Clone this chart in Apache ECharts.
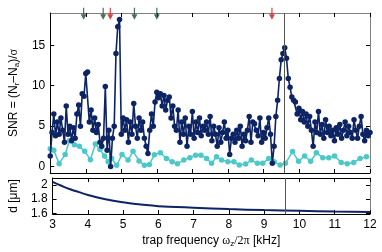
<!DOCTYPE html>
<html><head><meta charset="utf-8">
<script src="https://cdn.jsdelivr.net/npm/echarts@6/dist/echarts.min.js"></script>
<style>html,body{margin:0;padding:0;background:#fff}#c{width:382px;height:252px}</style>
</head><body><div id="c"></div>
<script>
// Signal SNR (dark blue), sampled every 0.05 kHz
var freqSignal = [
3.00,3.05,3.10,3.15,3.20,3.25,3.30,3.35,3.40,3.45,3.50,3.55,3.60,3.65,3.70,3.75,3.80,3.85,3.90,3.95,
4.00,4.05,4.10,4.15,4.20,4.25,4.30,4.35,4.40,4.45,4.50,4.55,4.60,4.65,4.70,4.75,4.80,4.85,4.90,4.95,
5.00,5.05,5.10,5.15,5.20,5.25,5.30,5.35,5.40,5.45,5.50,5.55,5.60,5.65,5.70,5.75,5.80,5.85,5.90,5.95,
6.00,6.05,6.10,6.15,6.20,6.25,6.30,6.35,6.40,6.45,6.50,6.55,6.60,6.65,6.70,6.75,6.80,6.85,6.90,6.95,
7.00,7.05,7.10,7.15,7.20,7.25,7.30,7.35,7.40,7.45,7.50,7.55,7.60,7.65,7.70,7.75,7.80,7.85,7.90,7.95,
8.00,8.05,8.10,8.15,8.20,8.25,8.30,8.35,8.40,8.45,8.50,8.55,8.60,8.65,8.70,8.75,8.80,8.85,8.90,8.95,
9.00,9.05,9.10,9.15,9.20,9.25,9.30,9.35,9.40,9.45,9.50,9.55,9.60,9.65,9.70,9.75,9.80,9.85,9.90,9.95,
10.00,10.05,10.10,10.15,10.20,10.25,10.30,10.35,10.40,10.45,10.50,10.55,10.60,10.65,10.70,10.75,10.80,10.85,10.90,10.95,
11.00,11.05,11.10,11.15,11.20,11.25,11.30,11.35,11.40,11.45,11.50,11.55,11.60,11.65,11.70,11.75,11.80,11.85,11.90,11.95,
12.00];
var snrSignal = [
1.3,4.2,6.5,3.8,5.5,4.0,6.0,4.5,3.0,7.5,4.0,5.0,3.2,4.8,3.5,6.5,7.6,5.0,9.0,8.7,
11.5,11.7,5.5,7.0,4.5,6.0,4.2,5.2,3.0,2.5,3.5,9.9,2.0,4.5,0.0,3.5,5.0,14.0,17.3,18.2,
4.0,6.0,4.5,5.8,3.0,5.5,4.0,7.8,5.0,3.5,6.0,4.5,5.5,3.5,2.5,1.6,4.5,6.5,5.0,8.0,
9.2,8.5,9.0,7.5,8.8,7.0,8.2,8.6,6.0,7.5,5.0,4.5,7.0,3.0,5.5,4.0,6.0,2.5,5.0,4.0,
6.8,3.5,5.5,4.2,6.0,3.8,5.0,4.5,5.5,4.0,6.2,3.2,5.0,4.0,2.5,4.8,3.0,4.2,5.5,3.5,
4.5,1.5,3.5,4.0,3.0,4.5,3.5,5.0,2.5,4.0,3.2,4.5,6.2,3.0,5.5,5.3,4.5,3.8,6.0,3.0,
4.2,3.5,4.8,6.0,4.0,0.4,2.5,6.2,8.2,10.9,13.2,14.0,14.7,13.4,10.9,9.8,8.6,8.2,8.0,6.5,
7.2,5.8,6.8,5.5,6.5,5.0,6.2,4.5,2.5,5.5,4.2,6.8,4.0,5.2,3.5,5.8,4.2,5.0,3.8,4.5,
3.2,4.8,4.0,5.2,3.5,4.5,5.5,3.8,5.0,4.2,3.5,5.8,4.5,3.5,5.0,6.2,4.0,3.2,4.5,3.8,
4.2];
// Reference SNR (cyan)
var freqRef = [3.00,3.10,3.25,3.42,3.54,3.68,3.82,3.97,4.13,4.27,4.40,4.53,4.63,4.73,4.87,5.02,5.19,5.33,5.50,5.65,
5.79,5.93,6.10,6.27,6.43,6.58,6.76,6.93,7.09,7.24,7.40,7.54,7.68,7.82,8.00,8.17,8.32,8.50,8.66,8.83,
8.98,9.15,9.30,9.47,9.62,9.82,9.99,10.16,10.33,10.49,10.67,10.84,11.00,11.19,11.36,11.54,11.72,11.90];
var snrRef = [2.2,2.0,0.35,1.5,3.2,2.7,2.5,1.9,0.85,2.8,2.1,1.3,0.6,1.0,0.15,1.5,0.8,1.9,0.7,0.15,
0.25,1.45,1.7,1.0,0.6,0.35,0.8,1.1,1.4,1.4,1.0,0.4,1.2,0.8,0.6,0.6,0.2,0.3,0.8,0.4,
0.4,1.0,0.6,0.2,0.4,1.85,0.65,1.3,0.65,1.7,1.1,1.1,1.3,0.5,0.35,0.5,1.0,1.2];
// Ion distance d [um]
var freqD = [3.0,3.25,3.5,3.75,4.0,4.5,5.0,5.5,6.0,6.5,7.0,8.0,9.0,10.0,11.0,12.0];
var distD = [2.045,1.99,1.94,1.90,1.86,1.80,1.756,1.725,1.70,1.69,1.68,1.66,1.645,1.635,1.627,1.62];
// Arrows
var arrowFreq = [3.94,4.49,4.69,5.37,6.0,9.24];
var arrowKind = ['g','g','r','g','g','r'];
var omegaM = 9.6;
var xTicks = [3,4,5,6,7,8,9,10,11,12];
var yTicksTop = [0,5,10,15];
var yTicksBot = [1.6,1.8,2.0];

var NAVY = '#0c2364', CYAN = '#4cc8c8', GREEN = '#1a4b34', RED = '#d01414';
var FONT = 'Liberation Sans, Arial, sans-serif';
function zip(a,b){return a.map(function(v,i){return [v,b[i]];});}

var chart = echarts.init(document.getElementById('c'), null, {renderer:'canvas'});
function xAx(grid, pos, lineColor, labels){
  return {gridIndex:grid, type:'value', position:pos, min:3, max:12, interval:1,
    axisLine:{show:true, onZero:false, lineStyle:{color:lineColor, width:1}},
    axisTick:{show:true, inside:true, length:4, lineStyle:{color:'#000'}},
    axisLabel:{show:labels, color:'#000', fontSize:12, fontFamily:FONT, margin:5},
    splitLine:{show:false}};
}
function yAx(grid, pos, lineColor, min, max, ticks, labels){
  return {gridIndex:grid, type:'value', position:pos, min:min, max:max,
    axisLine:{show:true, onZero:false, lineStyle:{color:lineColor, width:1}},
    axisTick:{show:true, inside:true, length:4, customValues:ticks, lineStyle:{color:'#000'}},
    axisLabel:{show:labels, customValues:ticks, color:'#000', fontSize:12, fontFamily:FONT, margin:5,
      formatter:function(v){return String(Math.round(v*10)/10);}},
    splitLine:{show:false}};
}
var xs = [xAx(0,'bottom','#000',false), xAx(0,'top','#808080',false), xAx(1,'bottom','#000',true), xAx(1,'top','#000',false)];
xs[2].name = '{t|trap frequency }{g|ω}{s|z}{g|/2π}{t| [kHz]}';
xs[2].nameLocation = 'middle';
xs[2].nameGap = 20;
xs[2].nameTextStyle = {rich:{
  t:{fontSize:12, fontFamily:FONT, color:'#000'},
  g:{fontSize:12, fontFamily:'Liberation Serif, serif', color:'#000'},
  s:{fontSize:8, fontFamily:FONT, color:'#000', verticalAlign:'bottom', padding:[6,0,0,0]}}};
var ys = [yAx(0,'left','#000',-0.8,19,yTicksTop,true), yAx(0,'right','#808080',-0.8,19,yTicksTop,false),
          yAx(1,'left','#000',1.59,2.1,yTicksBot,true), yAx(1,'right','#808080',1.59,2.1,yTicksBot,false)];
ys[0].name = '{t|SNR = (N}{s|r}{t|–N}{s|a}{t|)/}{g|σ}';
ys[0].nameLocation = 'middle'; ys[0].nameGap = 24; ys[0].nameRotate = 90;
ys[0].nameTextStyle = {rich:{
  t:{fontSize:12, fontFamily:FONT, color:'#000'},
  g:{fontSize:12, fontFamily:'Liberation Serif, serif', color:'#000'},
  s:{fontSize:8, fontFamily:FONT, color:'#000', padding:[6,0,0,0]}}};
ys[2].name = 'd [μm]';
ys[2].nameLocation = 'middle'; ys[2].nameGap = 24; ys[2].nameRotate = 90;
ys[2].nameTextStyle = {fontSize:12, fontFamily:FONT, color:'#000'};

var vline = function(){return {silent:true, symbol:'none', label:{show:false},
  lineStyle:{color:'#555', width:1, type:'solid'}, data:[{xAxis:omegaM}]};};

chart.setOption({
  animation:false,
  grid:[{left:45, top:13, width:325, height:160},
        {left:45, top:178, width:325, height:36}],
  xAxis:xs, yAxis:ys,
  series:[
    {type:'line', xAxisIndex:0, yAxisIndex:0, data:zip(freqRef,snrRef), symbol:'circle', symbolSize:5.5,
     itemStyle:{color:CYAN}, lineStyle:{color:CYAN, width:1.5}, z:3},
    {type:'line', xAxisIndex:0, yAxisIndex:0, data:zip(freqSignal,snrSignal), symbol:'circle', symbolSize:5.5,
     itemStyle:{color:NAVY}, lineStyle:{color:NAVY, width:1.6}, z:4, markLine:vline()},
    {type:'line', xAxisIndex:2, yAxisIndex:2, data:zip(freqD,distD), smooth:true, showSymbol:false, symbol:'none',
     lineStyle:{color:NAVY, width:2}, markLine:vline()},
    {type:'scatter', xAxisIndex:0, yAxisIndex:0, clip:false, z:6,
     symbol:'path://M4,0 L6,0 L6,9 L10,9 L5,17 L0,9 L4,9 Z', symbolSize:[6,12],
     data:arrowFreq.map(function(f,i){return {value:[f,18.9], itemStyle:{color:arrowKind[i]==='r'?RED:GREEN}};})},
    {type:'scatter', xAxisIndex:0, yAxisIndex:0, symbol:'none', symbolSize:1, z:6,
     data:[[omegaM,17.4]],
     label:{show:true, position:'right', distance:3, formatter:'{g|ω}{s|m}',
       rich:{g:{fontSize:13, fontFamily:'Liberation Serif, serif', color:'#000'},
             s:{fontSize:10, fontFamily:FONT, color:'#000', padding:[6,0,0,0]}}}}
  ]
});
</script></body></html>
